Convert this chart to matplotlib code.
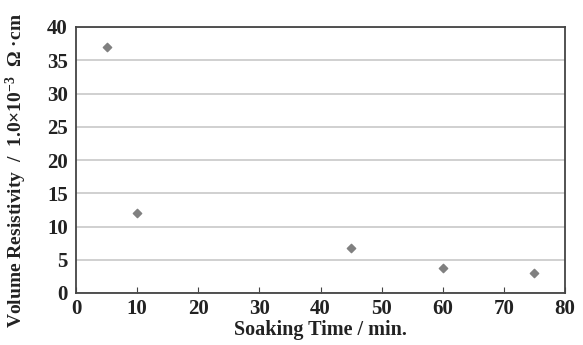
import matplotlib
matplotlib.use('Agg')
import matplotlib.pyplot as plt

# soaking time (min) vs volume resistivity (x 1.0e-3 ohm cm)
soak_time = [5, 10, 45, 60, 75]
resistivity = [37.0, 12.0, 6.7, 3.7, 3.0]

x_ticks = [0, 10, 20, 30, 40, 50, 60, 70, 80]
y_ticks = [0, 5, 10, 15, 20, 25, 30, 35, 40]

plt.rcParams['font.family'] = ['Liberation Serif', 'DejaVu Serif']
plt.rcParams['font.weight'] = 'bold'
plt.rcParams['mathtext.fontset'] = 'custom'
plt.rcParams['mathtext.rm'] = 'Liberation Serif:bold'
plt.rcParams['mathtext.bf'] = 'Liberation Serif:bold'
plt.rcParams['mathtext.default'] = 'bf'

fig = plt.figure(figsize=(5.83, 3.45), dpi=100)
ax = fig.add_axes([76/583, 1 - 293/345, (565-76)/583, (293-27)/345])

ax.scatter(soak_time, resistivity, marker='D', s=18, color='#808080', zorder=3)

ax.set_xlim(0, 80)
ax.set_ylim(0, 40)
ax.set_xticks(x_ticks)
ax.set_yticks(y_ticks)
ax.yaxis.grid(True, color='#c8c8c8', linewidth=1.2)
ax.set_axisbelow(True)

for s in ax.spines.values():
    s.set_color('#444444')
    s.set_linewidth(1.3)

ax.tick_params(axis='x', direction='in', length=4, color='#444444', labelsize=15, pad=4)
ax.tick_params(axis='y', length=0, labelsize=15, pad=6)
for lbl in ax.get_xticklabels() + ax.get_yticklabels():
    lbl.set_fontweight('bold')
    lbl.set_color('#222222')

ax.set_xlabel('Soaking Time / min.', fontsize=14.5, fontweight='bold', color='#222222', labelpad=1)
ax.set_ylabel('Volume Resistivity  /  1.0×10$^{-3}$  Ω ·cm', fontsize=14,
              fontweight='bold', color='#222222')
ax.yaxis.set_label_coords(-0.097, 0.46)

fig.savefig('out.png', dpi=100)
